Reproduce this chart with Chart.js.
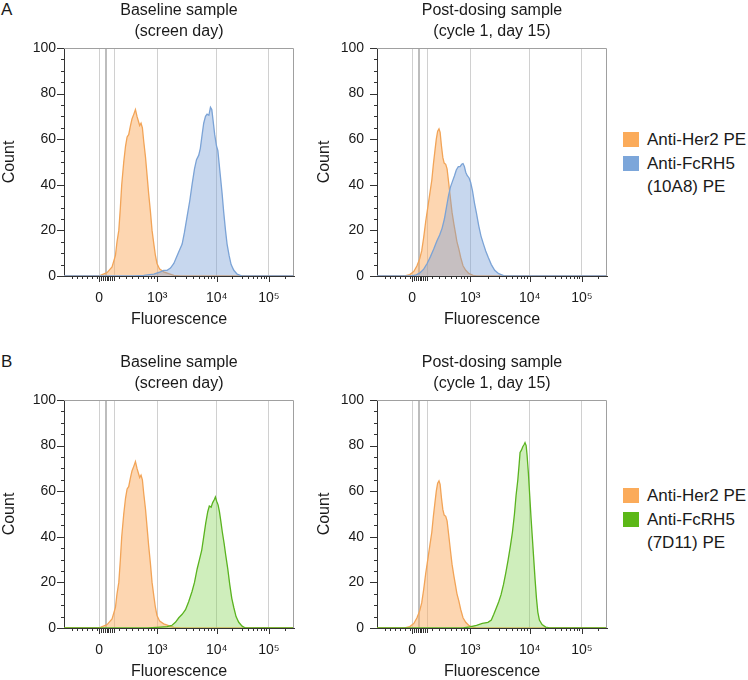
<!DOCTYPE html>
<html>
<head>
<meta charset="utf-8">
<script src="https://cdn.jsdelivr.net/npm/chart.js@4.4.0/dist/chart.umd.min.js"></script>
<style>
  body { margin: 0; background: #fff; width: 748px; height: 680px; position: relative; overflow: hidden;
         font-family: "Liberation Sans", Arial, sans-serif; color: #1a1a1a; }
  canvas { position: absolute; }
  .tag { position: absolute; left: 1px; font-size: 17px; line-height: 17px; }
  .legend { position: absolute; left: 623px; font-size: 17px; line-height: 23.5px; white-space: nowrap; }
  .legend .item { position: relative; padding-left: 24px; }
  .legend .sw { position: absolute; left: 0; top: 4px; width: 16px; height: 15px; }
</style>
</head>
<body>
<div class="tag" style="top:1px">A</div>
<div class="tag" style="top:353px">B</div>
<canvas id="a1" width="300" height="340" style="left:0;top:0"></canvas>
<canvas id="a2" width="300" height="340" style="left:313px;top:0"></canvas>
<canvas id="b1" width="300" height="340" style="left:0;top:352px"></canvas>
<canvas id="b2" width="300" height="340" style="left:313px;top:352px"></canvas>
<div class="legend" id="legA" style="top:128px"></div>
<div class="legend" id="legB" style="top:484px"></div>
<script>
// x = display channel on the biexponential axis (0-1024), y = count

// Anti-Her2 PE, baseline (screen day)
const her2BaseX = [0, 150, 162, 192, 214, 229, 236, 244, 251, 257, 266, 274, 281, 288, 296, 303, 311, 318, 325, 331, 337, 343, 349, 355, 363, 370, 377, 385, 392, 400, 407, 414, 426, 444, 466, 489, 520, 1024];
const her2BaseY = [0, 0, 0.3, 1.5, 4, 9, 15, 20, 30, 40, 50, 57, 61, 62, 66, 69, 71, 73, 70, 68, 66, 67, 65, 59, 52, 44, 36, 28, 20, 14, 9, 5.5, 3, 1.8, 1, 0.3, 0, 0];

// Anti-Her2 PE, post-dosing (cycle 1, day 15)
const her2PostX = [0, 123, 146, 164, 178, 190, 199, 208, 217, 226, 235, 244, 251, 258, 264, 270, 276, 281, 287, 293, 299, 306, 312, 319, 327, 334, 342, 349, 356, 364, 373, 383, 395, 410, 428, 443, 1024];
const her2PostY = [0, 0, 0.6, 2, 4.5, 7.5, 11, 17, 24, 30, 36, 42, 49, 55, 60, 63.5, 64.5, 63, 57, 52, 49.5, 49, 47, 41, 34, 28, 23, 19, 15, 12, 8, 4.5, 2.5, 1, 0.3, 0, 0];

// Anti-FcRH5 (10A8) PE
const a8BaseX = [0, 311, 355, 400, 429, 444, 459, 474, 489, 504, 515, 526, 536, 548, 560, 570, 581, 590, 600, 607, 615, 622, 630, 637, 645, 652, 658, 664, 671, 679, 685, 690, 696, 704, 711, 719, 726, 735, 744, 756, 771, 793, 1024];
const a8BaseY = [0, 0, 0.3, 0.8, 1.8, 2.5, 2.5, 3.5, 5.5, 9, 11.5, 14, 19, 26, 33, 40, 47, 51, 53, 56, 62, 67, 70, 71, 70.5, 74, 73, 68, 62, 57, 55, 50, 44, 36, 28, 20, 14, 9, 5, 2.5, 0.8, 0, 0];
const a8PostX = [0, 153, 175, 193, 208, 223, 238, 253, 267, 279, 290, 300, 309, 318, 327, 336, 345, 353, 362, 370, 377, 383, 389, 395, 402, 410, 417, 425, 434, 443, 453, 463, 474, 484, 496, 509, 524, 542, 564, 583, 1024];
const a8PostY = [0, 0, 0.5, 1.5, 3, 5.5, 8.5, 12, 15.5, 18, 21, 25, 30, 35, 39, 41.5, 44, 46.5, 48, 48, 49, 49.3, 48, 45.5, 44, 43, 41, 37.5, 32, 27.5, 22, 17.5, 14, 11, 8, 5, 2.5, 1, 0.2, 0, 0];

// Anti-FcRH5 (7D11) PE
const d11BaseX = [0, 370, 414, 459, 481, 496, 511, 526, 541, 555, 570, 581, 593, 603, 613, 622, 631, 640, 647, 655, 662, 670, 674, 680, 686, 692, 698, 705, 713, 720, 729, 738, 747, 756, 766, 778, 793, 808, 1024];
const d11BaseY = [0, 0, 0.3, 0.6, 1.2, 2.5, 4.5, 6, 8, 11.5, 16, 20, 26, 30, 34, 40, 46, 51, 53.5, 53, 55, 56.5, 57.5, 55.5, 54, 51, 47, 42, 37, 32, 26, 19, 13, 9, 5, 2.5, 0.8, 0, 0];
const d11PostX = [0, 383, 413, 443, 469, 494, 509, 520, 532, 542, 552, 563, 573, 584, 594, 603, 612, 619, 627, 633, 637, 643, 649, 655, 659, 664, 668, 674, 680, 686, 692, 698, 704, 710, 716, 723, 735, 751, 769, 1024];
const d11PostY = [0, 0, 0.5, 1.2, 2, 2.5, 3.5, 6, 9, 11.5, 14.5, 19, 24, 30, 36, 42, 50, 58, 65, 72, 77, 78, 79.5, 80.5, 81.3, 80, 76, 68, 58, 48, 39, 30, 21, 13, 7, 3.5, 1.5, 0.4, 0, 0];

// axis: labelled decades and the grey gate/grid lines, in channels
const xTickChannels = [157, 415, 680, 912];
const xTickLabels = ['0', '10³', '10⁴', '10⁵'];
const xGridChannels = [157, 187, 223, 415, 680, 912];
const xLinearTicks = [37, 60, 82, 104, 126, 149];
const xZeroTicks = [166, 174, 182, 190, 198, 206, 214, 222];
const xLowTicks = [245, 275, 304, 329, 353, 374, 389, 400, 412];
const yTickValues = [0, 20, 40, 60, 80, 100];

const baselineTitle = ['Baseline sample', '(screen day)'];
const postTitle = ['Post-dosing sample', '(cycle 1, day 15)'];

const her2Color = { line: '#f2a457', fill: 'rgba(251,174,100,0.5)', key: '#fbab5a' };
const a8Color = { line: '#7ba3d6', fill: 'rgba(122,160,214,0.42)', key: '#7ca6da' };
const d11Color = { line: '#5ab31f', fill: 'rgba(128,210,80,0.38)', key: '#5cb817' };

function decadeTicks(from, to) {
  const out = [];
  for (let m = 2; m <= 9; m++) out.push(from + Math.log10(m) * (to - from));
  return out;
}
const xMinorTicks = xLinearTicks.concat(xLowTicks,
  decadeTicks(415, 680), decadeTicks(680, 912), [912 + Math.log10(2) * 232]);

function toPoints(xs, ys) {
  return xs.map((x, i) => ({ x: x, y: ys[i] }));
}

const her2Base = { label: ['Anti-Her2 PE'], x: her2BaseX, y: her2BaseY, color: her2Color, order: 1 };
const her2Post = { label: ['Anti-Her2 PE'], x: her2PostX, y: her2PostY, color: her2Color, order: 1 };
const a8Base = { label: ['Anti-FcRH5', '(10A8) PE'], x: a8BaseX, y: a8BaseY, color: a8Color, order: 0 };
const a8Post = { label: ['Anti-FcRH5', '(10A8) PE'], x: a8PostX, y: a8PostY, color: a8Color, order: 0 };
const d11Base = { label: ['Anti-FcRH5', '(7D11) PE'], x: d11BaseX, y: d11BaseY, color: d11Color, order: 0 };
const d11Post = { label: ['Anti-FcRH5', '(7D11) PE'], x: d11PostX, y: d11PostY, color: d11Color, order: 0 };

// tick marks outside the plot and the light top/right frame
const axisMarks = {
  id: 'axisMarks',
  afterDraw(chart) {
    const { ctx, chartArea: a, scales: { x, y } } = chart;
    ctx.save();
    ctx.lineWidth = 1;
    ctx.strokeStyle = '#a0a0a0';
    ctx.beginPath();
    ctx.moveTo(a.left, a.top + 0.5);
    ctx.lineTo(a.right - 0.5, a.top + 0.5);
    ctx.lineTo(a.right - 0.5, a.bottom);
    ctx.stroke();

    ctx.strokeStyle = '#333';
    ctx.beginPath();
    for (let v = 0; v <= 100; v += 5) {
      const py = Math.round(y.getPixelForValue(v)) + 0.5;
      const len = v % 20 === 0 ? 7 : 3;
      ctx.moveTo(a.left - len, py);
      ctx.lineTo(a.left, py);
    }
    const xMark = (v, len) => {
      const px = Math.round(x.getPixelForValue(v)) + 0.5;
      ctx.moveTo(px, a.bottom);
      ctx.lineTo(px, a.bottom + len);
    };
    xMinorTicks.forEach(v => xMark(v, 3));
    xZeroTicks.forEach(v => xMark(v, 5));
    xTickChannels.forEach(v => xMark(v, 6));
    ctx.stroke();
    ctx.restore();
  }
};

function makePanel(id, title, series, tickPad, countPad) {
  return new Chart(document.getElementById(id), {
    type: 'line',
    data: {
      datasets: series.map(s => ({
        label: s.label.join(' '),
        data: toPoints(s.x, s.y),
        borderColor: s.color.line,
        backgroundColor: s.color.fill,
        borderWidth: 1.3,
        fill: 'origin',
        pointRadius: 0,
        tension: 0,
        order: s.order
      }))
    },
    options: {
      responsive: false,
      animation: false,
      devicePixelRatio: 1,
      layout: { padding: { left: 0, right: 6, top: 0, bottom: 0 } },
      plugins: {
        legend: { display: false },
        tooltip: { enabled: false },
        title: {
          display: true,
          text: title,
          fullSize: false,
          color: '#1a1a1a',
          font: { family: '"Liberation Sans", Arial, sans-serif', size: 16, weight: 'normal', lineHeight: 1.3125 },
          padding: { top: 0, bottom: 6 }
        }
      },
      scales: {
        x: {
          type: 'linear',
          min: 0,
          max: 1024,
          afterBuildTicks: s => { s.ticks = xGridChannels.map(v => ({ value: v })); },
          afterFit: s => { s.height = 64; },
          ticks: {
            autoSkip: false,
            maxRotation: 0,
            padding: 14,
            color: '#1a1a1a',
            font: { family: '"Liberation Sans", Arial, sans-serif', size: 14 },
            callback: v => {
              const i = xTickChannels.indexOf(v);
              return i >= 0 ? xTickLabels[i] : '';
            }
          },
          grid: {
            drawTicks: false,
            color: c => (c.tick && c.tick.value === 187) ? '#bdbdbd' : '#d0d0d0',
            lineWidth: c => (c.tick && c.tick.value === 187) ? 2 : 1
          },
          border: { color: '#333', width: 1 },
          title: {
            display: true,
            text: 'Fluorescence',
            color: '#1a1a1a',
            font: { family: '"Liberation Sans", Arial, sans-serif', size: 16 },
            padding: { top: 0, bottom: 11 }
          }
        },
        y: {
          min: 0,
          max: 100,
          afterBuildTicks: s => { s.ticks = yTickValues.map(v => ({ value: v })); },
          afterFit: s => { s.width = 64; },
          ticks: {
            padding: tickPad,
            color: '#1a1a1a',
            font: { family: '"Liberation Sans", Arial, sans-serif', size: 14 }
          },
          grid: { display: false, drawTicks: false },
          border: { display: true, color: '#333', width: 1 },
          title: {
            display: true,
            text: 'Count',
            color: '#1a1a1a',
            font: { family: '"Liberation Sans", Arial, sans-serif', size: 16 },
            padding: { top: countPad, bottom: 0 }
          }
        }
      }
    },
    plugins: [axisMarks]
  });
}

function buildLegend(id, series) {
  const box = document.getElementById(id);
  series.forEach(s => {
    const item = document.createElement('div');
    item.className = 'item';
    const sw = document.createElement('span');
    sw.className = 'sw';
    sw.style.background = s.color.key;
    item.appendChild(sw);
    s.label.forEach((line, i) => {
      if (i > 0) item.appendChild(document.createElement('br'));
      item.appendChild(document.createTextNode(line));
    });
    box.appendChild(item);
  });
}

makePanel('a1', baselineTitle, [her2Base, a8Base], 8, 0);
makePanel('a2', postTitle, [her2Post, a8Post], 13, 2);
makePanel('b1', baselineTitle, [her2Base, d11Base], 8, 0);
makePanel('b2', postTitle, [her2Post, d11Post], 13, 2);
buildLegend('legA', [her2Base, a8Base]);
buildLegend('legB', [her2Post, d11Post]);
</script>
</body>
</html>
